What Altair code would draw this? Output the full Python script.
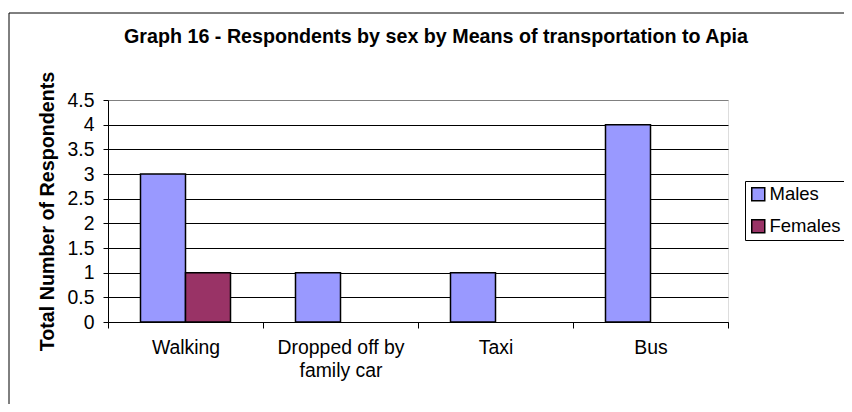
import altair as alt
import pandas as pd

categories = ["Walking", "Dropped off by family car", "Taxi", "Bus"]
series = ["Males", "Females"]
males = [3, 1, 1, 4]
females = [1, 0, 0, 0]
y_ticks = [0, 0.5, 1, 1.5, 2, 2.5, 3, 3.5, 4, 4.5]
colors = ["#9999FF", "#993366"]

rows = []
for c, m, f in zip(categories, males, females):
    rows.append({"Means": c, "Sex": "Males", "Count": m})
    rows.append({"Means": c, "Sex": "Females", "Count": f})
df = pd.DataFrame(rows)

FONT = "Liberation Sans"
LBL = 19.4
BOLD = 19.7

border = alt.Chart(pd.DataFrame({"k": [0]})).mark_rect(
    filled=False, stroke="black", strokeWidth=1
).encode(
    x=alt.value(-99), x2=alt.value(760), y=alt.value(-87), y2=alt.value(330)
)

bars = alt.Chart(df).transform_filter("datum.Count > 0").mark_bar(
    stroke="black", strokeWidth=1.5
).encode(
    x=alt.X(
        "Means:N", sort=categories, title=None,
        scale=alt.Scale(domain=categories, paddingInner=0, paddingOuter=0),
        axis=alt.Axis(
            labelAngle=0, labelFontSize=LBL, labelFont=FONT, labelColor="black",
            tickBand="extent", tickColor="black", tickSize=6, tickWidth=1,
            domainColor="black", domainWidth=1, labelPadding=10,
            labelLineHeight=23, labelLimit=300, grid=False,
            labelExpr="datum.value == 'Dropped off by family car' ? ['Dropped off by', 'family car'] : datum.label",
        ),
    ),
    xOffset=alt.XOffset(
        "Sex:N", sort=series,
        scale=alt.Scale(domain=series, paddingInner=0, paddingOuter=0.722),
    ),
    y=alt.Y(
        "Count:Q",
        scale=alt.Scale(domain=[0, 4.5], nice=False),
        axis=alt.Axis(
            values=y_ticks, format="~g", title="Total Number of Respondents",
            titleFontSize=BOLD, titleFont=FONT, titleFontWeight="bold", titleColor="black",
            titlePadding=10, labelFontSize=LBL, labelFont=FONT, labelColor="black",
            labelPadding=9, tickColor="black", tickSize=5, tickWidth=1,
            domainColor="black", domainWidth=1,
            gridColor=alt.condition("datum.value == 4.5", alt.value("#808080"), alt.value("black")),
            gridWidth=1,
        ),
    ),
    color=alt.Color(
        "Sex:N", sort=series,
        scale=alt.Scale(domain=series, range=colors),
        legend=alt.Legend(
            title=None, orient="none", legendX=637, legendY=81,
            strokeColor="black", fillColor="white", padding=4,
            symbolType="square", symbolSize=169, symbolStrokeColor="black",
            symbolStrokeWidth=1.5, labelFontSize=18.5, labelFont=FONT,
            labelColor="black", rowPadding=12, labelOffset=2,
        ),
    ),
)

chart = alt.layer(border, bars).properties(
    width=620, height=222,
    title=alt.TitleParams(
        "Graph 16 - Respondents by sex by Means of transportation to Apia",
        fontSize=BOLD, font=FONT, fontWeight="bold", color="black",
        anchor="middle", dx=18, offset=-50, baseline="alphabetic",
    ),
    autosize=alt.AutoSizeParams(type="none"),
    padding={"left": 100, "top": 92, "right": 116, "bottom": 82},
).configure_view(
    fill="#C0C0C0", stroke="#808080", strokeWidth=2
).configure(background="white")

chart.save("out.html", embed_options={"renderer": "svg", "actions": False})
